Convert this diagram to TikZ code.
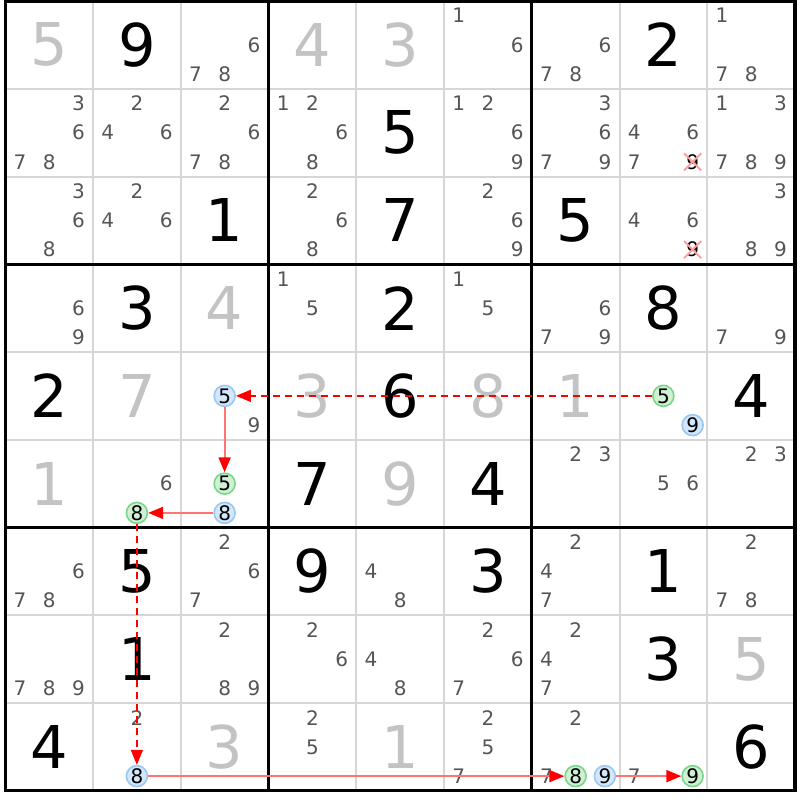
\documentclass[tikz,border=0pt]{standalone}
\usepackage{fontspec}
\setmainfont{DejaVu Sans}
\usetikzlibrary{arrows.meta,shapes.misc}
\definecolor{candgray}{HTML}{555555}
\definecolor{solvedgray}{HTML}{C3C3C3}
\definecolor{gridgray}{HTML}{D6D6D6}
\definecolor{bluefill}{HTML}{D3E6FA}
\definecolor{blueline}{HTML}{99C8F2}
\definecolor{greenfill}{HTML}{D0F0D4}
\definecolor{greenline}{HTML}{7AD68A}
\definecolor{linkred}{HTML}{FF0000}
\definecolor{crossred}{HTML}{F4A3A3}
\tikzset{
  given/.style={inner sep=0pt,font=\fontsize{59}{59}\selectfont},
  solved/.style={given,text=solvedgray},
  cand/.style={inner sep=0pt,text=candgray,font=\fontsize{20}{20}\selectfont},
  onblue/.style={cand,circle,text=black,draw=blueline,fill=bluefill,line width=1.6pt,minimum size=21pt},
  ongreen/.style={onblue,draw=greenline,fill=greenfill},
  struck/.style={cand,text=black,cross out,draw=crossred,line width=2pt,minimum size=15pt},
  strong link/.style={draw=linkred!55,line width=1.8pt,-{Triangle[length=15pt,width=12pt,color=linkred]}},
  weak link/.style={strong link,draw=linkred,line width=1.5pt,dash pattern=on 7pt off 5pt},
}
\begin{document}
\begin{tikzpicture}[x=1pt,y=-1pt]
\useasboundingbox (0,0) rectangle (800,800);
% grid
\foreach \i in {1,2,4,5,7,8}
  \draw[gridgray,line width=2pt] ({5.25+87.75*\i},1)--({5.25+87.75*\i},790.75)
    (5.25,{1+87.75*\i})--(795,{1+87.75*\i});
\foreach \i in {3,6}
  \draw[line width=3.2pt] ({5.25+87.75*\i},1)--({5.25+87.75*\i},790.75)
    (5.25,{1+87.75*\i})--(795,{1+87.75*\i});
\draw[line width=3.2pt] (5.25,1) rectangle (795,790.75);
% givens and solved cells
\foreach \r/\c/\v in {0/1/9,0/7/2,1/4/5,2/2/1,2/4/7,2/6/5,3/1/3,3/4/2,3/7/8,
    4/0/2,4/4/6,4/8/4,5/3/7,5/5/4,6/1/5,6/3/9,6/5/3,6/7/1,7/1/1,7/7/3,8/0/4,8/8/6}
  \node[given] (g\r\c) at ({5.25+87.75*\c+43.875},{1+87.75*\r+43.875}) {\v};
\foreach \r/\c/\v in {0/0/5,0/3/4,0/4/3,3/2/4,4/1/7,4/3/3,4/5/8,4/6/1,5/0/1,
    5/4/9,7/8/5,8/2/3,8/4/1}
  \node[solved] (s\r\c) at ({5.25+87.75*\c+43.875},{1+87.75*\r+43.875}) {\v};
% candidates
\foreach \r/\c/\ds in {0/2/{6,7,8},0/5/{1,6},0/6/{6,7,8},0/8/{1,7,8},
    1/0/{3,6,7,8},1/1/{2,4,6},1/2/{2,6,7,8},1/3/{1,2,6,8},1/5/{1,2,6,9},
    1/6/{3,6,7,9},1/7/{4,6,7},1/8/{1,3,7,8,9},
    2/0/{3,6,8},2/1/{2,4,6},2/3/{2,6,8},2/5/{2,6,9},2/7/{4,6},2/8/{3,8,9},
    3/0/{6,9},3/3/{1,5},3/5/{1,5},3/6/{6,7,9},3/8/{7,9},
    4/2/{9},5/1/{6},5/6/{2,3},5/7/{5,6},5/8/{2,3},
    6/0/{6,7,8},6/2/{2,6,7},6/4/{4,8},6/6/{2,4,7},6/8/{2,7,8},
    7/0/{7,8,9},7/2/{2,8,9},7/3/{2,6},7/4/{4,8},7/5/{2,6,7},7/6/{2,4,7},
    8/1/{2},8/3/{2,5},8/5/{2,5,7},8/6/{2,7},8/7/{7}}
  \foreach \d in \ds {
    \pgfmathsetmacro\px{5.25+87.75*\c+14.625+29.25*mod(\d-1,3)}
    \pgfmathsetmacro\py{1+87.75*\r+14.625+29.25*int((\d-1)/3)}
    \node[cand] (n\r\c\d) at (\px,\py) {\d};
  }
% marked candidates
\foreach \r/\c/\d/\s in {4/2/5/onblue,4/7/5/ongreen,4/7/9/onblue,5/2/5/ongreen,
    5/2/8/onblue,5/1/8/ongreen,8/1/8/onblue,8/6/8/ongreen,8/6/9/onblue,
    8/7/9/ongreen,1/7/9/struck,2/7/9/struck} {
  \pgfmathsetmacro\px{5.25+87.75*\c+14.625+29.25*mod(\d-1,3)}
  \pgfmathsetmacro\py{1+87.75*\r+14.625+29.25*int((\d-1)/3)}
  \node[\s] (n\r\c\d) at (\px,\py) {\d};
}
% chain
\draw[weak link] (n475)--(n425);
\draw[strong link] (n425)--(n525);
\draw[strong link] (n528)--(n518);
\draw[weak link] (n518)--(n818);
\draw[strong link] (n818)--(n868);
\draw[strong link] (n869)--(n879);
\end{tikzpicture}
\end{document}
